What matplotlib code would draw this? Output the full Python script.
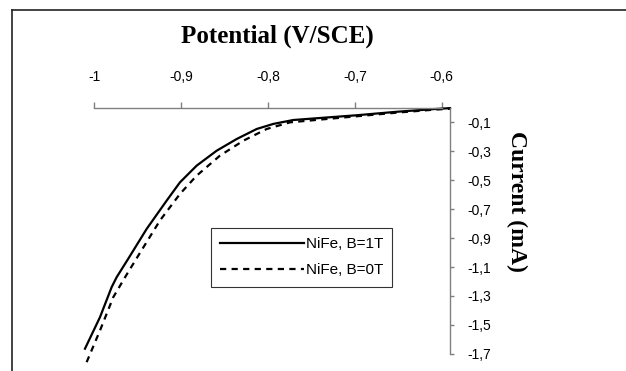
import matplotlib
matplotlib.use("Agg")
import matplotlib.pyplot as plt
from matplotlib.lines import Line2D

# potential (V/SCE) and current (mA)
pot_1t = [-1.0107, -0.9934, -0.9800, -0.9742, -0.9609, -0.9397, -0.9166, -0.9013,
          -0.8821, -0.8591, -0.8360, -0.8130, -0.7939, -0.7709, -0.7287, -0.6975,
          -0.6515, -0.6100, -0.5904]
cur_1t = [-1.664, -1.446, -1.239, -1.170, -1.043, -0.837, -0.641, -0.515,
          -0.400, -0.297, -0.216, -0.147, -0.112, -0.085, -0.066, -0.052,
          -0.028, -0.010, -0.003]

pot_0t = [-1.0088, -0.9934, -0.9781, -0.9627, -0.9493, -0.9244, -0.9013, -0.8821,
          -0.8553, -0.8284, -0.8015, -0.7747, -0.7287, -0.6975, -0.6515, -0.6100,
          -0.5904]
cur_0t = [-1.757, -1.538, -1.308, -1.152, -1.021, -0.779, -0.595, -0.469,
          -0.331, -0.228, -0.147, -0.101, -0.076, -0.059, -0.034, -0.014,
          -0.007]

x_ticks = [-1.0, -0.9, -0.8, -0.7, -0.6]
x_labels = ["-1", "-0,9", "-0,8", "-0,7", "-0,6"]
y_ticks = [-0.1, -0.3, -0.5, -0.7, -0.9, -1.1, -1.3, -1.5, -1.7]
y_labels = ["-0,1", "-0,3", "-0,5", "-0,7", "-0,9", "-1,1", "-1,3", "-1,5", "-1,7"]

W, H = 626, 371
fig = plt.figure(figsize=(W / 100, H / 100), dpi=100)
ax = fig.add_axes([76.9 / W, 0.0, (450.4 - 76.9) / W, (H - 107.7) / H])
ax.set_xlim(-1.02, -0.59)
ax.set_ylim(-1.818, 0.0)

ax.plot(pot_1t, cur_1t, color="black", lw=1.6, label="NiFe, B=1T", clip_on=False)
ax.plot(pot_0t, cur_0t, color="black", lw=1.6, dashes=(2.8, 2.4), label="NiFe, B=0T",
        clip_on=False)

for s in ["left", "bottom"]:
    ax.spines[s].set_visible(False)
ax.spines["top"].set_bounds(-1.0, -0.6)
ax.spines["right"].set_bounds(-1.7, 0.0)
for s in ["top", "right"]:
    ax.spines[s].set_color("#808080")
    ax.spines[s].set_linewidth(1.0)
ax.patch.set_visible(False)

ax.xaxis.tick_top()
ax.yaxis.tick_right()
ax.set_xticks(x_ticks, x_labels)
ax.set_yticks(y_ticks, y_labels)
ax.tick_params(axis="x", direction="out", length=4, width=1, color="#808080", pad=13,
               labelsize=10)
ax.tick_params(axis="y", direction="out", length=3, width=1, color="#808080", pad=9,
               labelsize=10)
for lab in ax.get_xticklabels() + ax.get_yticklabels():
    lab.set_fontfamily("Liberation Sans")

leg = ax.legend(loc="upper left", bbox_to_anchor=(211 / W, 1 - 228 / H),
                bbox_transform=fig.transFigure, borderaxespad=0, fancybox=False,
                handlelength=5.5, handletextpad=0.1, labelspacing=0.8, borderpad=0.6,
                prop={"family": "Liberation Sans", "size": 11})
leg.get_frame().set_edgecolor("black")
leg.get_frame().set_linewidth(0.8)

fig.text(277 / W, 1 - 36.7 / H, "Potential (V/SCE)", ha="center", va="center",
         family="Liberation Serif", weight="bold", size=18)
fig.text(516.5 / W, 1 - 201.5 / H, "Current (mA)", ha="center", va="center",
         rotation=270, family="Liberation Serif", weight="bold", size=17)

# outer frame (only top and left edges fall inside the picture)
fig.add_artist(Line2D([12 / W, 12 / W], [0, 1 - 10 / H], color="#222222", lw=1.2))
fig.add_artist(Line2D([12 / W, 1], [1 - 10 / H, 1 - 10 / H], color="#222222", lw=1.2))

fig.savefig("out.png", dpi=100)
